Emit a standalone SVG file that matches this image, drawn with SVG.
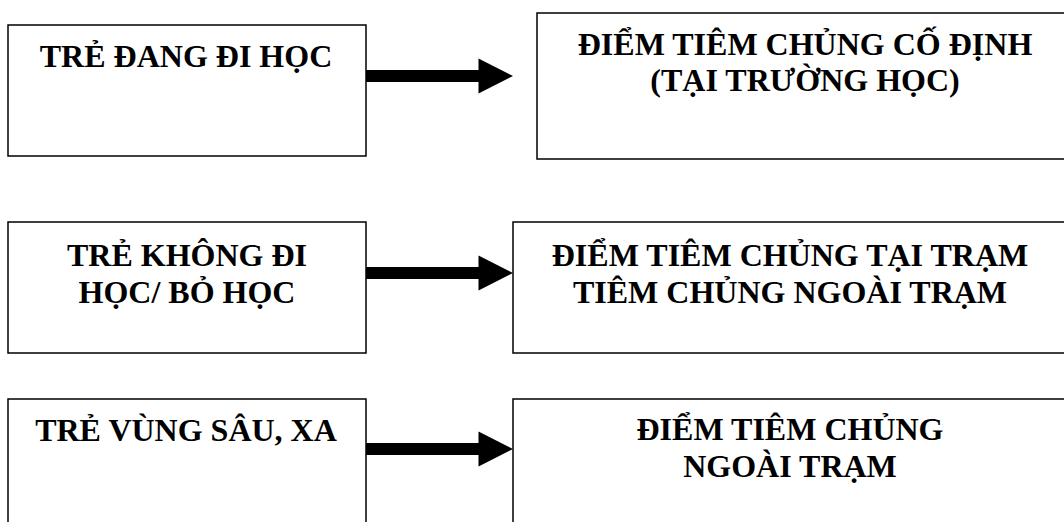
<svg xmlns="http://www.w3.org/2000/svg" width="1064" height="522" viewBox="0 0 1064 522">
<style>
.box{fill:#fff;stroke:#000;stroke-width:1.5}
.t{font-family:"Liberation Serif","Times New Roman",serif;font-weight:bold;font-size:32px;fill:#000;text-anchor:middle}
.arr{fill:#000;stroke:none}
</style>
<rect width="1064" height="522" fill="#fff"/>
<g id="connectors">
<path class="arr" d="M366,70 H478.5 V58.5 L513,76 L478.5,93.5 V82 H366 Z"/>
<path class="arr" d="M366,267 H478.5 V255.5 L513,273 L478.5,290.5 V279 H366 Z"/>
<path class="arr" d="M366,443 H478.5 V431.5 L513,449 L478.5,466.5 V455 H366 Z"/>
</g>
<g id="node-tre-dang-di-hoc">
<rect class="box" x="8" y="25" width="358" height="131"/>
<text class="t" x="186" y="67">TRẺ ĐANG ĐI HỌC</text>
</g>
<g id="node-diem-co-dinh">
<rect class="box" x="537" y="13" width="540" height="146"/>
<text class="t" x="805" y="55">ĐIỂM TIÊM CHỦNG CỐ ĐỊNH</text>
<text class="t" x="805" y="91">(TẠI TRƯỜNG HỌC)</text>
</g>
<g id="node-tre-khong-di-hoc">
<rect class="box" x="8" y="222" width="358" height="131"/>
<text class="t" x="187" y="266">TRẺ KHÔNG ĐI</text>
<text class="t" x="187" y="303">HỌC/ BỎ HỌC</text>
</g>
<g id="node-diem-tai-tram">
<rect class="box" x="513" y="222" width="560" height="131"/>
<text class="t" x="790" y="266">ĐIỂM TIÊM CHỦNG TẠI TRẠM</text>
<text class="t" x="790" y="303">TIÊM CHỦNG NGOÀI TRẠM</text>
</g>
<g id="node-tre-vung-sau">
<rect class="box" x="8" y="399" width="358" height="140"/>
<text class="t" x="186" y="441">TRẺ VÙNG SÂU, XA</text>
</g>
<g id="node-diem-ngoai-tram">
<rect class="box" x="513" y="399" width="560" height="140"/>
<text class="t" x="790" y="440">ĐIỂM TIÊM CHỦNG</text>
<text class="t" x="790" y="477">NGOÀI TRẠM</text>
</g>
</svg>
